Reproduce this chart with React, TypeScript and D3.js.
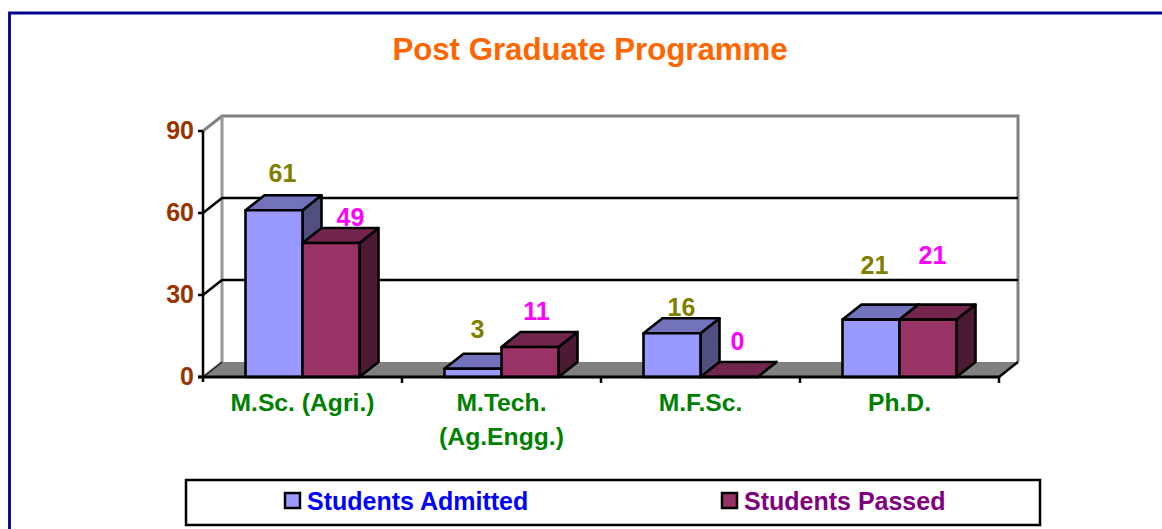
import * as React from "react";
import * as d3 from "d3";

const categories = ["M.Sc. (Agri.)", "M.Tech.|(Ag.Engg.)", "M.F.Sc.", "Ph.D."];
const seriesNames = ["Students Admitted", "Students Passed"];
const admitted = [61, 3, 16, 21];
const passed = [49, 11, 0, 21];
const yTicks = [0, 30, 60, 90];

// the labels sit by hand in the original chart, so keep their nudges apart from the values
const labelLift = [
  [36, 39, 25, 54],
  [25, 35, 35, 64],
];
const labelShift = [
  [0, -4, 1, -5],
  [11, -2, 0, -4],
];

const FONT = "'Liberation Sans', Arial, sans-serif";
const DEPTH_X = 19;
const DEPTH_Y = 15;

const themes = [
  { front: "#9999ff", top: "#7373bd", side: "#4f4f80", label: "#808000", legend: "#0000ff" },
  { front: "#993366", top: "#73264d", side: "#4d1a33", label: "#ff00ff", legend: "#800080" },
];

const y = d3.scaleLinear().domain([0, 90]).range([377, 131]);
const x = d3.scaleBand<string>().domain(categories).range([203, 999]).paddingInner(0).paddingOuter(0);

const BAR_WIDTH = 57;

function Bar({ left, value, theme }) {
  const right = left + BAR_WIDTH;
  const top = y(value);
  const base = y(0);
  const poly = (pts: number[][]) => pts.map(p => p.join(",")).join(" ");
  const stroke = { stroke: "#000", strokeWidth: 2.6, strokeLinejoin: "round" as const };

  return (
    <g>
      <polygon
        points={poly([[right, top], [right + DEPTH_X, top - DEPTH_Y], [right + DEPTH_X, base - DEPTH_Y], [right, base]])}
        fill={theme.side}
        {...stroke}
      />
      <polygon
        points={poly([[left, top], [left + DEPTH_X, top - DEPTH_Y], [right + DEPTH_X, top - DEPTH_Y], [right, top]])}
        fill={theme.top}
        {...stroke}
      />
      <rect x={left} y={top} width={BAR_WIDTH} height={base - top} fill={theme.front} {...stroke} />
    </g>
  );
}

export default function App() {
  const base = y(0);
  const series = [admitted, passed];

  return (
    <svg
      width={1162}
      height={529}
      style={{ position: "absolute", left: 0, top: 0, display: "block", background: "#fff" }}
      fontFamily={FONT}
      fontWeight="bold"
    >
      {/* outer frame, runs off the picture on the right and bottom */}
      <path d="M1162,13 H9.5 V529" fill="none" stroke="#00008b" strokeWidth={2.8} />

      <text x={590} y={60} textAnchor="middle" fontSize={31.2} fill="#ff6600">
        Post Graduate Programme
      </text>

      {/* floor and walls */}
      <polygon
        points={`203,${base} ${203 + DEPTH_X},${base - DEPTH_Y} ${999 + DEPTH_X},${base - DEPTH_Y} 999,${base}`}
        fill="#808080"
      />
      <path
        d={`M203,${y(90)} L${203 + DEPTH_X},${y(90) - DEPTH_Y} H${999 + DEPTH_X} V${base - DEPTH_Y}`}
        fill="none"
        stroke="#808080"
        strokeWidth={3}
      />
      <line x1={222} x2={222} y1={y(90) - DEPTH_Y} y2={base - DEPTH_Y} stroke="#969696" strokeWidth={3} />

      {/* gridlines */}
      {yTicks.filter(t => t > 0 && t < 90).map(t => (
        <path
          key={t}
          d={`M203,${y(t)} L${203 + DEPTH_X},${y(t) - DEPTH_Y} H${999 + DEPTH_X}`}
          fill="none"
          stroke="#000"
          strokeWidth={2.5}
        />
      ))}
      <line x1={203} y1={base} x2={222} y2={base - DEPTH_Y} stroke="#333" strokeWidth={2} />
      <line x1={999} y1={base} x2={1018} y2={base - DEPTH_Y} stroke="#000" strokeWidth={2.5} />

      {/* bars */}
      {categories.map((c, i) => {
        const groupLeft = x(c)! + (x.bandwidth() - BAR_WIDTH * 2) / 2;
        return (
          <g key={c}>
            <Bar left={groupLeft} value={admitted[i]} theme={themes[0]} />
            <Bar left={groupLeft + BAR_WIDTH} value={passed[i]} theme={themes[1]} />
          </g>
        );
      })}

      {/* axes */}
      <line x1={203} x2={203} y1={y(90)} y2={base + 5} stroke="#000" strokeWidth={2.5} />
      <line x1={198} x2={999} y1={base} y2={base} stroke="#000" strokeWidth={3} />
      {yTicks.map(t => (
        <g key={t}>
          <line x1={198} x2={203} y1={y(t)} y2={y(t)} stroke="#000" strokeWidth={2.5} />
          <text x={194} y={y(t) + 8} textAnchor="end" fontSize={25} fill="#993300">
            {t}
          </text>
        </g>
      ))}
      {categories.map(c => (
        <line key={c} x1={x(c)! + x.step()} x2={x(c)! + x.step()} y1={base} y2={base + 6} stroke="#000" strokeWidth={2.5} />
      ))}
      {categories.map(c => (
        <text key={c} textAnchor="middle" fontSize={24.7} fill="#008000">
          {c.split("|").map((line, i) => (
            <tspan key={line} x={x(c)! + x.bandwidth() / 2} y={411 + i * 34}>
              {line}
            </tspan>
          ))}
        </text>
      ))}

      {/* value labels */}
      {categories.map((c, i) => {
        const groupLeft = x(c)! + (x.bandwidth() - BAR_WIDTH * 2) / 2;
        return series.map((s, k) => (
          <text
            key={k}
            x={groupLeft + BAR_WIDTH * k + 37 + labelShift[k][i]}
            y={y(s[i]) - labelLift[k][i] + 8}
            textAnchor="middle"
            fontSize={25}
            fill={themes[k].label}
          >
            {s[i]}
          </text>
        ));
      })}

      {/* legend */}
      <rect x={186} y={480} width={854} height={45} fill="#fff" stroke="#000" strokeWidth={2.5} />
      {seriesNames.map((name, k) => {
        const swatchX = k === 0 ? 285 : 722;
        return (
          <g key={name}>
            <rect x={swatchX} y={493} width={15} height={15} fill={themes[k].front} stroke="#000" strokeWidth={2.5} />
            <text x={swatchX + 22} y={510} fontSize={25} fill={themes[k].legend}>
              {name}
            </text>
          </g>
        );
      })}
    </svg>
  );
}
